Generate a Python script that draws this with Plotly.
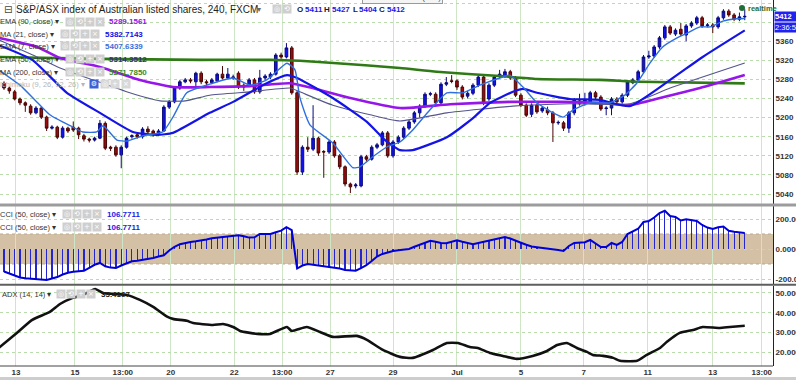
import plotly.graph_objects as go

# ---------------- data ----------------
bar_idx = list(range(140))
open_ = [5272,5262,5254,5239,5231,5224,5210,5220,5201,5178,5180,5159,5178,5180,5178,5162,5155,5153,5157,5188,
         5138,5138,5122,5138,5160,5164,5160,5176,5172,5166,5172,5222,5233,5262,5275,5279,5275,5293,5275,5273,
         5277,5291,5283,5283,5293,5268,5268,5279,5254,5283,5285,5291,5331,5327,5346,5252,5086,5138,5134,5157,
         5129,5128,5149,5120,5097,5061,5057,5057,5118,5113,5138,5143,5168,5120,5149,5159,5178,5191,5210,5224,
         5249,5249,5231,5270,5277,5277,5264,5245,5251,5268,5285,5239,5268,5287,5287,5296,5283,5247,5226,5207,
         5226,5214,5216,5210,5189,5189,5178,5210,5235,5229,5233,5252,5243,5219,5220,5239,5233,5247,5273,5279,
         5296,5327,5329,5348,5367,5390,5375,5385,5373,5392,5398,5409,5393,5394,5390,5409,5423,5415,5406,5411]
high = [5276,5265,5258,5242,5234,5228,5224,5223,5204,5184,5183,5182,5181,5192,5181,5166,5158,5160,5195,5192,
        5141,5142,5142,5160,5165,5167,5180,5182,5175,5176,5226,5237,5266,5279,5283,5283,5296,5297,5279,5283,
        5294,5308,5304,5290,5297,5272,5283,5283,5300,5291,5295,5335,5336,5356,5350,5256,5142,5159,5226,5160,
        5132,5153,5153,5124,5100,5064,5063,5122,5122,5142,5147,5172,5172,5153,5163,5182,5195,5214,5228,5253,
        5254,5253,5274,5285,5289,5280,5268,5256,5272,5289,5289,5272,5289,5300,5302,5300,5287,5251,5230,5230,
        5230,5224,5223,5214,5194,5193,5214,5241,5250,5252,5256,5256,5247,5224,5243,5243,5251,5279,5283,5300,
        5331,5340,5352,5371,5394,5394,5387,5398,5396,5402,5413,5413,5398,5398,5413,5427,5427,5419,5420,5427]
low = [5258,5250,5236,5226,5212,5206,5207,5197,5172,5175,5155,5156,5168,5170,5155,5150,5148,5150,5155,5132,
       5130,5118,5094,5135,5156,5156,5156,5166,5160,5162,5170,5218,5230,5258,5272,5272,5262,5270,5268,5270,
       5274,5280,5280,5279,5260,5256,5264,5250,5250,5279,5281,5288,5323,5324,5248,5080,5080,5128,5130,5120,
       5074,5124,5116,5092,5056,5042,5052,5054,5108,5110,5134,5140,5116,5116,5145,5155,5174,5187,5200,5220,
       5245,5227,5228,5266,5272,5258,5238,5240,5247,5264,5226,5235,5264,5283,5283,5279,5243,5222,5201,5201,
       5208,5210,5205,5149,5185,5172,5168,5205,5225,5225,5229,5239,5214,5205,5205,5229,5229,5243,5270,5275,
       5292,5323,5325,5344,5363,5373,5371,5371,5360,5388,5394,5388,5389,5377,5386,5405,5411,5402,5402,5404]
close = [5262,5256,5239,5231,5226,5210,5220,5201,5178,5180,5159,5178,5172,5174,5164,5155,5153,5157,5188,5136,
         5136,5122,5138,5157,5162,5160,5176,5170,5166,5172,5222,5233,5262,5275,5279,5277,5293,5275,5273,5279,
         5291,5283,5291,5285,5264,5264,5279,5254,5283,5287,5291,5331,5327,5346,5252,5086,5138,5134,5157,5126,
         5128,5149,5120,5097,5061,5055,5059,5118,5113,5138,5143,5168,5120,5149,5159,5178,5191,5210,5224,5249,
         5250,5231,5270,5273,5276,5264,5243,5251,5268,5285,5231,5268,5285,5291,5296,5283,5247,5226,5205,5226,
         5212,5220,5210,5189,5190,5178,5210,5237,5229,5237,5252,5243,5218,5220,5239,5233,5247,5275,5279,5296,
         5327,5329,5348,5367,5390,5377,5383,5375,5392,5398,5409,5392,5394,5390,5409,5423,5415,5406,5411,5412]

# indicator lines (bar position, value)
ema90_x = [-1, 6.2, 10.5, 18.0, 25.5, 31.7, 38.6, 46.2, 53.7, 59.3, 65.0, 74.3, 83.7, 95.0, 104.3, 111.8, 117.4, 123.1, 130.6, 139]
ema90_y = [5367, 5348, 5325, 5306, 5279, 5264, 5264, 5266, 5272, 5258, 5241, 5220, 5228, 5233, 5233, 5231, 5226, 5241, 5262, 5289.2]

ma21_x = [-1, 5.3, 11.8, 18.0, 24.2, 28.7, 31.7, 38.6, 43.0, 49.3, 53.1, 55.0, 61.7, 68.1, 71.5, 74.3, 76.7, 83.1, 88.0, 91.2, 95.5, 97.4, 100.0, 106.2, 111.8, 117.4, 125.0, 131.1, 139]
ma21_y = [5352, 5321, 5252, 5210, 5170, 5164, 5168, 5210, 5233, 5272, 5289, 5283, 5241, 5191, 5153, 5132, 5132, 5159, 5199, 5231, 5254, 5260, 5252, 5239, 5237, 5224, 5279, 5327, 5382.7]

ema7_x = [-1, 3.0, 5.8, 8.6, 12.4, 14.8, 17.4, 18.6, 21.2, 23.1, 26.1, 29.8, 31.7, 34.3, 38.6, 43.0, 46.2, 49.3, 53.1, 54.6,
          55.5, 57.4, 61.7, 65.5, 66.8, 69.2, 71.9, 74.3, 76.7, 79.9, 83.1, 86.1, 89.3, 93.6, 94.9, 97.4, 100.0, 103.0,
          104.9, 106.8, 109.9, 113.7, 116.5, 118.8, 121.2, 123.6, 126.3, 128.2, 130.6, 132.5, 134.9, 137.5, 139]
ema7_y = [5300, 5268, 5237, 5206, 5183, 5170, 5170, 5183, 5153, 5151, 5162, 5170, 5201, 5252, 5270, 5283, 5268, 5279, 5314, 5300,
          5243, 5185, 5147, 5095, 5097, 5118, 5139, 5149, 5174, 5216, 5252, 5252, 5268, 5285, 5289, 5264, 5231, 5210,
          5201, 5216, 5231, 5231, 5247, 5273, 5314, 5348, 5367, 5377, 5390, 5390, 5402, 5407, 5407.6]

ema50_x = [-1, 5.4, 10.5, 16.7, 23.6, 29.3, 34.0, 38.6, 46.2, 53.7, 55.5, 61.7, 68.7, 74.3, 83.1, 95.5, 106.2, 117.4, 125.0, 139]
ema50_y = [5363, 5331, 5304, 5279, 5252, 5235, 5235, 5247, 5254, 5262, 5254, 5226, 5206, 5193, 5210, 5224, 5229, 5229, 5262, 5314.4]

ma200_x = [-1, 18, 36.8, 49.9, 55.5, 62.5, 74.3, 81.2, 93, 100, 111.8, 119.3, 139]
ma200_y = [5327, 5323, 5321, 5321, 5319, 5314, 5304, 5296, 5287, 5281, 5279, 5275, 5271.8]

cci = [-150,-165,-180,-190,-195,-198,-202,-205,-207,-197,-187,-170,-158,-152,-150,-145,-125,-105,-93,-115,
       -124,-127,-110,-95,-82,-78,-72,-68,-60,-50,-42,-10,15,32,42,47,51,56,63,72,
       76,79,82,88,92,85,76,78,100,100,100,112,122,145,125,-130,-110,-100,-105,-110,
       -115,-118,-120,-130,-140,-143,-145,-128,-108,-80,-50,-33,-22,-13,-8,-4,0,15,30,43,
       55,48,40,38,48,58,48,38,32,40,48,55,65,74,80,70,58,42,28,17,
       12,8,4,0,-7,-13,20,40,40,45,60,35,13,13,40,27,47,100,115,135,
       180,186,210,240,255,220,214,190,198,195,187,160,143,133,145,150,122,115,110,106.8]

adx_x = [-1, 2.4, 5.3, 8.6, 10.5, 12.9, 14.8, 17.1, 18.6, 20.5, 23.1, 25.5, 28.0, 30.6, 31.7, 34.3, 35.5, 39.2, 41.1, 43.0,
         44.3, 47.5, 49.9, 53.1, 54.0, 56.8, 59.3, 61.7, 66.2, 68.1, 71.1, 74.3, 76.7, 80.5, 83.1, 85.2, 87.4, 88.9, 91.2,
         93.6, 96.2, 99.2, 101.9, 103.8, 105.6, 107.5, 109.4, 110.5, 112.4, 114.3, 115.6, 118.8, 120.6, 123.1, 124.4,
         126.8, 129.3, 131.1, 134.3, 136.2, 139]
adx_y = [22.2, 29.8, 36.4, 40.4, 44.4, 47.5, 49.0, 52.0, 50.0, 49.5, 49.0, 46.5, 43.0, 38.0, 36.9, 35.9, 34.8, 33.8, 34.3, 32.8,
         30.8, 29.3, 29.3, 32.8, 30.8, 32.8, 30.3, 27.8, 28.3, 26.3, 21.2, 17.7, 17.2, 21.2, 24.7, 24.7, 22.7, 22.2, 19.7,
         18.2, 16.7, 18.2, 20.7, 23.7, 24.7, 22.2, 20.2, 18.7, 18.2, 17.2, 15.7, 15.7, 18.7, 22.2, 25.3,
         29.8, 31.3, 32.8, 32.3, 32.8, 33.4]

tick_pos = [2.25, 13.3, 22.3, 31.3, 43.2, 52.2, 61.2, 73.0, 85.0, 97.0, 108.8, 120.8, 133.0, 142.2]
tick_text = ["13", "15", "13:00", "20", "22", "13:00", "27", "29", "Jul", "5", "7", "11", "13", "13:00"]

price_ticks = [5040, 5080, 5120, 5160, 5200, 5240, 5280, 5320, 5360, 5400, 5440]
# the 5400 label sits behind the live price / timer boxes in the original
price_tick_text = ["5040", "5080", "5120", "5160", "5200", "5240", "5280", "5320", "5360", "", "5440"]
cci_ticks = [-200, 0, 200]
cci_tick_text = ["-200.0000", "0.0000", "200.0000"]
adx_ticks = [20, 30, 40, 50]
adx_tick_text = ["20.0000", "30.0000", "40.0000", "50.0000"]

# ---------------- layout helpers ----------------
W, H = 796, 380
ML, MR, MT, MB = 0, 23, 0, 14
PW = W - ML - MR
PH = H - MT - MB


def X(px):
    return px / PW


def Y(py):
    return 1 - py / PH


FONT = "Liberation Sans"
GRID_V = "#cfe6c6"
GRID_H = "#b9dcac"

fig = go.Figure()

# ---------------- price panel ----------------
fig.add_trace(go.Candlestick(
    x=bar_idx, open=open_, high=high, low=low, close=close,
    increasing=dict(fillcolor="#1212ee", line=dict(color="#0a0a7a", width=1)),
    decreasing=dict(fillcolor="#9a0c0c", line=dict(color="#4a0505", width=1)),
    whiskerwidth=0, xaxis="x", yaxis="y", hoverinfo="skip"))

line_specs = [
    (ma200_x, ma200_y, "#2f7a16", 2.6),
    (ema90_x, ema90_y, "#9616ea", 2.6),
    (ema50_x, ema50_y, "#54548e", 1.1),
    (ma21_x, ma21_y, "#1414e6", 2.2),
    (ema7_x, ema7_y, "#2f6fe0", 1.4),
]
for xs, ys, col, w in line_specs:
    fig.add_trace(go.Scatter(x=xs, y=ys, mode="lines", line=dict(color=col, width=w, shape="spline", smoothing=0.5),
                             xaxis="x", yaxis="y", hoverinfo="skip"))

# ---------------- CCI panel ----------------
fig.add_trace(go.Bar(x=bar_idx, y=cci, width=0.22, marker=dict(color="#2424d0", line=dict(width=0)),
                     xaxis="x2", yaxis="y2", hoverinfo="skip"))
fig.add_trace(go.Scatter(x=bar_idx, y=cci, mode="lines", line=dict(color="#0000d8", width=2),
                         xaxis="x2", yaxis="y2", hoverinfo="skip"))

# ---------------- ADX panel ----------------
fig.add_trace(go.Scatter(x=adx_x, y=adx_y, mode="lines", line=dict(color="#111111", width=2.6, shape="spline", smoothing=0.5),
                         xaxis="x3", yaxis="y3", hoverinfo="skip"))

xr = [-0.75, 144.3]
xcommon = dict(range=xr, tickmode="array", tickvals=tick_pos, ticktext=tick_text, showgrid=True,
               gridcolor=GRID_V, gridwidth=1, zeroline=False, showline=False, ticks="", fixedrange=True)
ycommon = dict(side="right", showgrid=True, gridcolor=GRID_H, griddash="dot", gridwidth=1, zeroline=False,
               showline=True, linecolor="#222222", linewidth=1, ticks="", automargin=False,
               tickfont=dict(family=FONT, size=8, color="#333333", weight="bold"), fixedrange=True)

fig.update_layout(
    width=W, height=H, margin=dict(l=ML, r=MR, t=MT, b=MB, pad=0, autoexpand=False),
    paper_bgcolor="white", plot_bgcolor="white", showlegend=False, bargap=0,
    xaxis=dict(xcommon, anchor="y", showticklabels=False, rangeslider=dict(visible=False)),
    xaxis2=dict(xcommon, anchor="y2", showticklabels=False),
    xaxis3=dict(xcommon, anchor="y3", showticklabels=True, automargin=False,
                tickfont=dict(family=FONT, size=8, color="#333333", weight="bold")),
    yaxis=dict(ycommon, anchor="x", domain=[Y(204), 1], range=[5446.3 - 2.094 * 204, 5446.3],
               tickvals=price_ticks, ticktext=price_tick_text),
    yaxis2=dict(ycommon, anchor="x2", domain=[Y(284), Y(206)], range=[-233.3, 286.7],
                tickvals=cci_ticks, ticktext=cci_tick_text),
    yaxis3=dict(ycommon, anchor="x3", domain=[0, Y(286)], range=[13.1, 53.5],
                tickvals=adx_ticks, ticktext=adx_tick_text),
)

# CCI band
fig.add_shape(type="rect", xref="paper", x0=0, x1=1, yref="y2", y0=-100, y1=100,
              fillcolor="#d4c0a5", line=dict(width=0), layer="below")
for lv in (-100, 100):
    fig.add_shape(type="line", xref="paper", x0=0, x1=1, yref="y2", y0=lv, y1=lv,
                  line=dict(color="#b8a98f", width=1, dash="dot"), layer="below")

# separators
fig.add_shape(type="line", xref="paper", yref="paper", x0=0, x1=X(W), y0=Y(205), y1=Y(205),
              line=dict(color="#9c9c9c", width=3))
fig.add_shape(type="line", xref="paper", yref="paper", x0=0, x1=X(W), y0=Y(284.8), y1=Y(284.8),
              line=dict(color="#5e5e5e", width=2))
fig.add_shape(type="line", xref="paper", yref="paper", x0=0, x1=X(773), y0=Y(366), y1=Y(366),
              line=dict(color="#444444", width=1))
fig.add_shape(type="rect", xref="paper", yref="paper", x0=0, x1=X(W), y0=Y(377), y1=Y(381),
              fillcolor="#cdcdcd", line=dict(width=0))


def txt(px, py, s, size=8, color="#333333", bold=False, anchor="left", family=FONT, **kw):
    fig.add_annotation(xref="paper", yref="paper", x=X(px), y=Y(py), text=s, showarrow=False,
                       xanchor=anchor, yanchor="middle",
                       font=dict(family=family, size=size, color=color, weight="bold" if bold else "normal"),
                       borderpad=0, **kw)


def icons(px0, py, glyphs, colors=None, step=10):
    for k, g in enumerate(glyphs):
        bg = colors[k] if colors else "#cfcfcf"
        fig.add_annotation(xref="paper", yref="paper", x=X(px0 + k * step), y=Y(py), text=g, showarrow=False,
                           xanchor="left", yanchor="middle", width=8, height=8, bgcolor=bg, borderpad=0,
                           font=dict(family="DejaVu Sans", size=7, color="white"))


G4 = ["◎", "⟲", "+", "×"]

# title and OHLC header
fig.add_annotation(xref="paper", yref="paper", x=X(2), y=Y(9), text="⊟", showarrow=False, xanchor="left",
                   yanchor="middle", font=dict(family="DejaVu Sans", size=10, color="#444444"))
txt(15, 9, "S&P/ASX index of Australian listed shares, 240, FXCM", size=10, color="#222222")
txt(256, 9, "▾", size=8, color="#666666", family="DejaVu Sans")
icons(272, 9, ["◎", "⟲"])
txt(296, 9, "O", size=8, color="#222222", bold=True)
txt(304, 9, "5411", size=8, color="#1a1ae6", bold=True)
txt(323, 9, "H", size=8, color="#222222", bold=True)
txt(331, 9, "5427", size=8, color="#1a1ae6", bold=True)
txt(352, 9, "L", size=8, color="#222222", bold=True)
txt(358, 9, "5404", size=8, color="#1a1ae6", bold=True)
txt(378, 9, "C", size=8, color="#222222", bold=True)
txt(386, 9, "5412", size=8, color="#1a1ae6", bold=True)
fig.add_annotation(xref="paper", yref="paper", x=X(403), y=Y(-3), text="Exit Full Screen (Esc)", showarrow=False,
                   xanchor="center", yanchor="middle", bgcolor="#f4f4f4", bordercolor="#9a9a9a", borderwidth=1,
                   borderpad=1, font=dict(family=FONT, size=8, color="#555555"))

# indicator legend rows
rows = [
    (21.5, "EMA (90, close) ▾", 65, "5289.1561", 108, "#9311f0"),
    (34, "MA (21, close) ▾", 60, "5382.7143", 104, "#1010e0"),
    (46.5, "EMA (7, close) ▾", 60, "5407.6339", 104, "#3a6fd8"),
    (59, "EMA (50, close) ▾", 65, "5314.3512", 108, "#33337f"),
    (72, "MA (200, close) ▾", 65, "5271.7850", 108, "#3c8a1c"),
]
for py, lab, ix, val, vx, vcol in rows:
    txt(-1, py, lab, size=7.5, color="#333333")
    icons(ix, py, G4)
    txt(vx, py, val, size=8, color=vcol, bold=True)
txt(-1, 84.5, "Ichimoku (9, 26, 52, 26) ▾", size=7.5, color="#b5b5b5")
icons(89, 84.5, ["⚙", "◎", "+", "×"], colors=["#3a63d8", "#d8d8d8", "#d8d8d8", "#d8d8d8"], step=10.5)

# CCI legend
for py in (214, 227):
    txt(-1, py, "CCI (50, close) ▾", size=7.5, color="#333333")
    icons(62, py, G4)
    txt(106, py, "106.7711", size=8, color="#1a1ae6", bold=True)

# ADX legend
txt(1, 294, "ADX (14, 14) ▾", size=7.5, color="#333333")
icons(56, 294, G4)
txt(100, 294, "33.4167", size=8, color="#222222", bold=True)

# right-side live labels
fig.add_annotation(xref="paper", yref="paper", x=X(774), y=Y(16.5), text="5412", showarrow=False,
                   xanchor="left", yanchor="middle", bgcolor="#2121f2", borderpad=0, height=9, width=22,
                   font=dict(family=FONT, size=7.5, color="white", weight="bold"), align="left")
fig.add_annotation(xref="paper", yref="paper", x=X(774), y=Y(27.5), text="2:36:50", showarrow=False,
                   xanchor="left", yanchor="middle", bgcolor="#2121f2", borderpad=0, height=9,
                   font=dict(family=FONT, size=7.5, color="white"), align="left")
fig.add_shape(type="circle", xref="paper", yref="paper", x0=X(739), x1=X(745), y0=Y(11), y1=Y(5),
              fillcolor="#1f6e35", line=dict(width=0))
txt(747, 8, "realtime", size=7.5, color="#1f6e35", bold=True)

fig.write_html("out.html", config={"displayModeBar": False, "staticPlot": True},
               post_script="document.body.style.margin='0';document.body.style.overflow='hidden';")
